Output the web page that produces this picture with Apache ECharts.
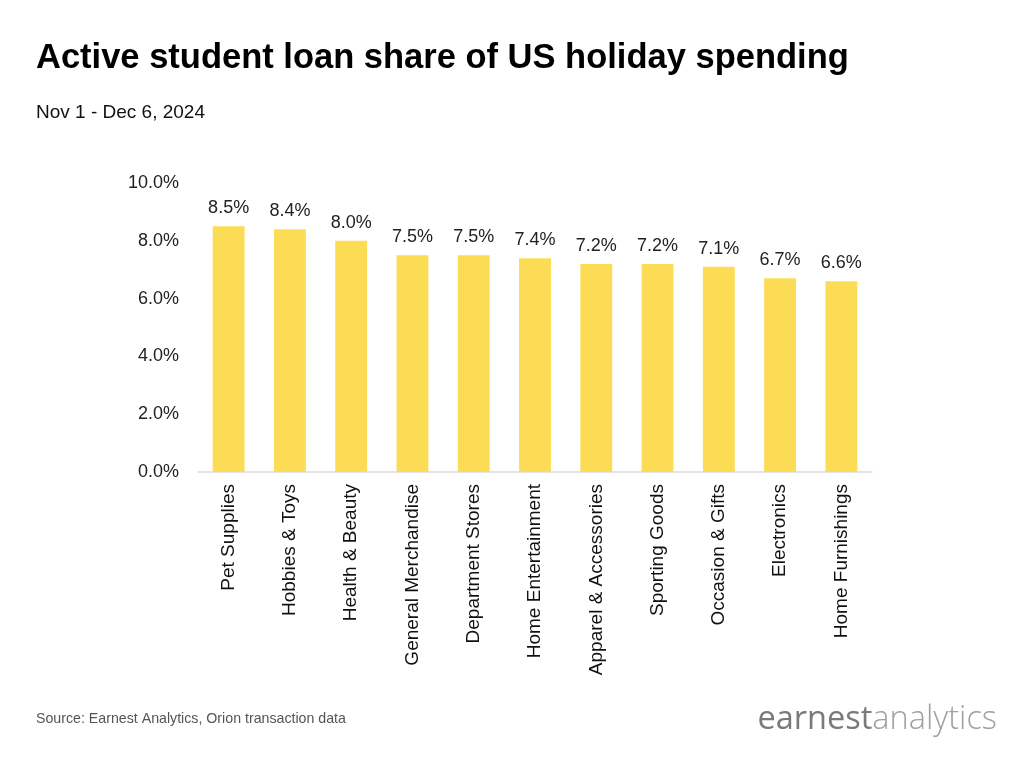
<!DOCTYPE html>
<html><head><meta charset="utf-8">
<script src="https://cdn.jsdelivr.net/npm/echarts@6/dist/echarts.min.js"></script>
<style>html,body{margin:0;padding:0;background:#fff}#c{width:1024px;height:768px}</style>
</head><body><div id="c"></div>
<script>
const categories = ["Pet Supplies","Hobbies & Toys","Health & Beauty","General Merchandise","Department Stores","Home Entertainment","Apparel & Accessories","Sporting Goods","Occasion & Gifts","Electronics","Home Furnishings"];
const shareValues = [8.5, 8.4, 8.0, 7.5, 7.5, 7.4, 7.2, 7.2, 7.1, 6.7, 6.6];
const yTicks = [0, 2, 4, 6, 8, 10];

const chart = echarts.init(document.getElementById('c'));
const F = 'Liberation Sans, Arial, sans-serif';
chart.setOption({
  animation: false,
  backgroundColor: '#fff',
  title: [
    { text: 'Active student loan share of US holiday spending', left: 31, top: 36,
      textStyle: { fontFamily: F, fontSize: 34.5, fontWeight: 'bold', color: '#000' } },
    { text: 'Nov 1 - Dec 6, 2024', left: 31, top: 98,
      textStyle: { fontFamily: F, fontSize: 19, fontWeight: 'normal', color: '#111' } }
  ],
  grid: { left: 198, right: 152, top: 183, bottom: 296 },
  xAxis: {
    type: 'category', data: categories,
    axisLine: { lineStyle: { color: '#dddddd', width: 1.5 } },
    axisTick: { show: false },
    axisLabel: { rotate: 90, margin: 12, fontFamily: F, fontSize: 19, color: '#111', interval: 0 }
  },
  yAxis: {
    type: 'value', min: yTicks[0], max: yTicks[yTicks.length - 1], interval: 2,
    splitLine: { show: false }, axisLine: { show: false }, axisTick: { show: false },
    axisLabel: { margin: 19, fontFamily: F, fontSize: 18, color: '#222', formatter: v => v.toFixed(1) + '%' }
  },
  series: [{
    type: 'bar', data: shareValues, barWidth: '52%',
    itemStyle: { color: '#FDDC55' },
    label: { show: true, position: 'top', distance: 9, fontFamily: F, fontSize: 18, color: '#222',
      formatter: p => p.value.toFixed(1) + '%' }
  }],
  graphic: [
    { type: 'text', left: 36, top: 712, style: { text: 'Source: Earnest Analytics, Orion transaction data', font: '14.2px Liberation Sans, Arial, sans-serif', fill: '#555' } },
    { type: 'text', right: 27, top: 703, style: {
        text: '{a|earnest}{b|analytics}',
        rich: {
          a: { fontFamily: 'Open Sans, Lato, sans-serif', fontSize: 32.5, fontWeight: 400, fill: '#7a7a7a' },
          b: { fontFamily: 'Open Sans, Lato, sans-serif', fontSize: 32.5, fontWeight: 300, fill: '#a0a0a0' }
        } } }
  ]
});
</script></body></html>
